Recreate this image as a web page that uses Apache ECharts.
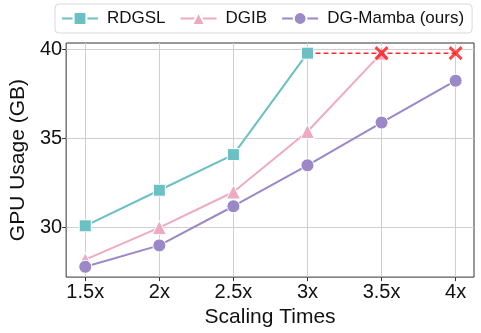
<!DOCTYPE html>
<html>
<head>
<meta charset="utf-8">
<script src="https://cdn.jsdelivr.net/npm/echarts@6/dist/echarts.min.js"></script>
<style>
  html, body { margin: 0; padding: 0; background: #fff; }
  #chart { width: 481px; height: 333px; }
</style>
</head>
<body>
<div id="chart"></div>
<script>
// scaling factors and tick labels
var scales = [1.5, 2, 2.5, 3, 3.5, 4];
var yTicks = [30, 35, 40];
// GPU usage (GB)
var rdgsl = [30.1, 32.1, 34.1, 39.8];
var dgib = [28.2, 30.0, 32.0, 35.4, 39.8];
var mamba = [27.8, 29.0, 31.2, 33.5, 35.9, 38.25];
// out of memory markers
var oomLevel = 39.8;
var oomFrom = 3;
var oomScales = [3.5, 4];

function pairs(vals) {
    return vals.map(function (v, i) { return [scales[i], v]; });
}

var font = '"Liberation Sans", Arial, Helvetica, sans-serif';
var chart = echarts.init(document.getElementById('chart'));

var option = {
    animation: false,
    grid: {
        left: 61, right: 7, top: 43, bottom: 53,
        show: true,
        borderColor: '#333',
        borderWidth: 1
    },
    legend: {
        data: ['RDGSL', 'DGIB', 'DG-Mamba (ours)'],
        left: 55, top: 4,
        padding: [6, 8, 6, 6],
        itemWidth: 36, itemHeight: 16,
        itemGap: 14,
        borderColor: '#d8d8d8', borderWidth: 1, borderRadius: 4,
        textStyle: { fontFamily: font, fontSize: 17, color: '#111', padding: [0, 0, 0, 4] }
    },
    xAxis: {
        type: 'value',
        min: 1.371, max: 4.124,
        name: 'Scaling Times',
        nameLocation: 'middle',
        nameGap: 27,
        nameTextStyle: { fontFamily: font, fontSize: 21, color: '#111' },
        axisLine: { show: false },
        axisTick: { show: true, length: 4, customValues: scales, lineStyle: { color: '#333' } },
        axisLabel: {
            customValues: scales, margin: 5,
            fontFamily: font, fontSize: 20, color: '#111',
            formatter: function (v) { return v + 'x'; }
        },
        splitLine: { show: true, lineStyle: { color: '#cfcfcf', width: 1 } }
    },
    yAxis: {
        type: 'value',
        min: 27.22, max: 40.37,
        name: 'GPU Usage (GB)',
        nameLocation: 'middle',
        nameGap: 34,
        nameTextStyle: { fontFamily: font, fontSize: 21, color: '#111' },
        axisLine: { show: false },
        axisTick: { show: true, length: 4, customValues: yTicks, lineStyle: { color: '#333' } },
        axisLabel: {
            customValues: yTicks, margin: 4,
            fontFamily: font, fontSize: 20, color: '#111'
        },
        splitLine: { show: true, lineStyle: { color: '#cfcfcf', width: 1 } }
    },
    series: [
        {
            name: 'RDGSL', type: 'line', data: pairs(rdgsl),
            symbol: 'rect', symbolSize: 12,
            lineStyle: { color: '#6BC0C3', width: 2 },
            itemStyle: { color: '#6BC0C3', borderColor: '#fff', borderWidth: 1 },
            z: 3
        },
        {
            name: 'DGIB', type: 'line', data: pairs(dgib),
            symbol: 'triangle', symbolSize: 14,
            lineStyle: { color: '#EFAAC3', width: 2 },
            itemStyle: { color: '#EFAAC3', borderColor: '#fff', borderWidth: 1 },
            z: 3
        },
        {
            name: 'DG-Mamba (ours)', type: 'line', data: pairs(mamba),
            symbol: 'circle', symbolSize: 13,
            lineStyle: { color: '#9A88C7', width: 2 },
            itemStyle: { color: '#9A88C7', borderColor: '#fff', borderWidth: 1 },
            z: 3
        },
        {
            name: 'OOM', type: 'line',
            data: [[oomFrom, oomLevel]].concat(oomScales.map(function (s) { return [s, oomLevel]; })),
            showSymbol: false,
            lineStyle: { color: '#FF2A2A', width: 1.5, type: [5, 3] },
            z: 2
        },
        {
            name: 'OOM-X', type: 'scatter',
            data: oomScales.map(function (s) { return [s, oomLevel]; }),
            symbol: 'path://M0,0L10,10M10,0L0,10',
            symbolSize: 12,
            itemStyle: { color: 'none', borderColor: '#FF1A1A', borderWidth: 3 },
            z: 5
        }
    ]
};
chart.setOption(option);
</script>
</body>
</html>
